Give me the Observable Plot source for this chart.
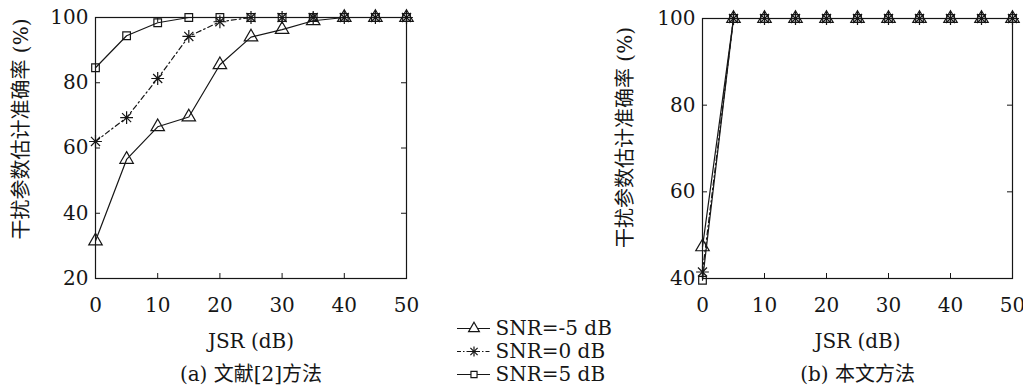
<!DOCTYPE html>
<html>
<head>
<meta charset="utf-8">
<script src="https://cdn.jsdelivr.net/npm/d3@7"></script>
<script src="https://cdn.jsdelivr.net/npm/@observablehq/plot@0.6"></script>
<style>
  html, body { margin: 0; padding: 0; background: #fff; }
  #root { position: relative; width: 1023px; height: 386px; overflow: hidden; background: #fff; }
  #root > div { position: absolute; }
</style>
</head>
<body>
<div id="root">
  <div id="left" style="left:0;top:0"></div>
  <div id="legend" style="left:457px;top:310px"></div>
  <div id="right" style="left:590px;top:0"></div>
</div>
<script>
// ---- data ----
const jsr = [0, 5, 10, 15, 20, 25, 30, 35, 40, 45, 50];
const xTicks = [0, 10, 20, 30, 40, 50];
const yTicksA = [20, 40, 60, 80, 100];
const yTicksB = [40, 60, 80, 100];
const seriesNames = ["SNR=-5 dB", "SNR=0 dB", "SNR=5 dB"];

// (a) 文献[2]方法
const refSnrM5 = [31.5, 56.5, 66.5, 69.5, 85.5, 94.0, 96.3, 99.0, 100, 100, 100];
const refSnr0  = [62.0, 69.3, 81.3, 94.2, 98.7, 100, 100, 100, 100, 100, 100];
const refSnr5  = [84.6, 94.4, 98.4, 100, 100, 100, 100, 100, 100, 100, 100];
// (b) 本文方法
const oursSnrM5 = [47.3, 100, 100, 100, 100, 100, 100, 100, 100, 100, 100];
const oursSnr0  = [41.5, 100, 100, 100, 100, 100, 100, 100, 100, 100, 100];
const oursSnr5  = [39.6, 100, 100, 100, 100, 100, 100, 100, 100, 100, 100];

const yLabel = "干扰参数估计准确率 (%)";
const xLabel = "JSR (dB)";
const captionA = "(a) 文献[2]方法";
const captionB = "(b) 本文方法";

// ---- styles ----
const ink = "#161616";
const fontLatin = "'DejaVu Serif', 'Noto Sans CJK SC', serif";
const styles = [
  {dash: null, symbols: ["triangle"], r: 5},
  {dash: "5,3,1.5,3", symbols: ["plus", "times"], r: 4.2},
  {dash: null, symbols: ["square"], r: 4.3}
];

function rows(vals) { return jsr.map((x, i) => ({x, y: vals[i]})); }

function panel({series, yDomain, yTicks, width, height, mL, mR, mT, mB, caption, yLabDx, yLabDy}) {
  const FW = width - mL - mR, FH = height - mT - mB;
  const marks = [];
  // inward ticks on all four sides
  marks.push(Plot.tickX(xTicks, {x: d => d, insetTop: FH - 5, stroke: ink}));
  marks.push(Plot.tickX(xTicks, {x: d => d, insetBottom: FH - 5, stroke: ink}));
  marks.push(Plot.tickY(yTicks, {y: d => d, insetRight: FW - 5, stroke: ink}));
  marks.push(Plot.tickY(yTicks, {y: d => d, insetLeft: FW - 5, stroke: ink}));
  marks.push(Plot.axisX(xTicks, {tickSize: 0, tickPadding: 19, fontSize: 20, fill: ink, label: null}));
  marks.push(Plot.axisY(yTicks, {tickSize: 0, tickPadding: 7, fontSize: 20, fill: ink, label: null}));
  series.forEach((vals, i) => {
    const d = rows(vals);
    const st = styles[i];
    marks.push(Plot.line(d, {x: "x", y: "y", stroke: ink, strokeWidth: 1.2, strokeDasharray: st.dash}));
    st.symbols.forEach(sym => {
      marks.push(Plot.dot(d, {x: "x", y: "y", symbol: sym, r: st.r, stroke: ink, fill: "none", strokeWidth: 1.2}));
    });
  });
  marks.push(Plot.frame({stroke: ink, strokeWidth: 1.2}));
  marks.push(Plot.text([xLabel], {text: d => d, frameAnchor: "bottom", dy: 69, fontSize: 20, fill: ink}));
  marks.push(Plot.text([caption], {text: d => d, frameAnchor: "bottom", dy: 102, fontSize: 20, fill: ink}));
  marks.push(Plot.text([yLabel], {text: d => d, frameAnchor: "left", textAnchor: "middle", rotate: -90, dx: yLabDx, dy: yLabDy, fontSize: 20, fill: ink}));
  return Plot.plot({
    width, height,
    marginLeft: mL, marginRight: mR, marginTop: mT, marginBottom: mB,
    x: {domain: [0, 50], axis: null},
    y: {domain: yDomain, axis: null},
    style: {fontFamily: fontLatin, fontSize: "20px", color: ink, background: "transparent", overflow: "visible"},
    marks
  });
}

document.getElementById("left").appendChild(panel({
  series: [refSnrM5, refSnr0, refSnr5], yDomain: [20, 100], yTicks: yTicksA,
  width: 430, height: 386, mL: 95, mR: 24, mT: 17, mB: 108,
  caption: captionA, yLabDx: -74, yLabDy: -19
}));

document.getElementById("right").appendChild(panel({
  series: [oursSnrM5, oursSnr0, oursSnr5], yDomain: [40, 100], yTicks: yTicksB,
  width: 433, height: 386, mL: 112, mR: 11, mT: 18, mB: 108,
  caption: captionB, yLabDx: -77, yLabDy: -11
}));

// legend, drawn with Plot too
const legendData = seriesNames.map((name, i) => ({name, i}));
const legendMarks = [];
legendData.forEach(d => {
  const st = styles[d.i];
  legendMarks.push(Plot.ruleY([d], {y: "name", stroke: ink, strokeWidth: 1.2, strokeDasharray: st.dash ? "4,2,1.5,2" : null}));
  st.symbols.forEach(sym => {
    legendMarks.push(Plot.dot([d], {y: "name", symbol: sym, r: st.r * 0.8, stroke: ink, fill: "white", strokeWidth: 1.2}));
  });
});
legendMarks.push(Plot.text(legendData, {y: "name", text: "name", frameAnchor: "right", textAnchor: "start", dx: 5, fontSize: 20, fill: ink}));
document.getElementById("legend").appendChild(Plot.plot({
  width: 170, height: 80,
  marginLeft: 0, marginRight: 137, marginTop: 18, marginBottom: 16,
  x: {axis: null},
  y: {type: "point", domain: seriesNames, padding: 0, axis: null},
  style: {fontFamily: fontLatin, fontSize: "20px", color: ink, background: "transparent", overflow: "visible"},
  marks: legendMarks
}));
</script>
</body>
</html>
